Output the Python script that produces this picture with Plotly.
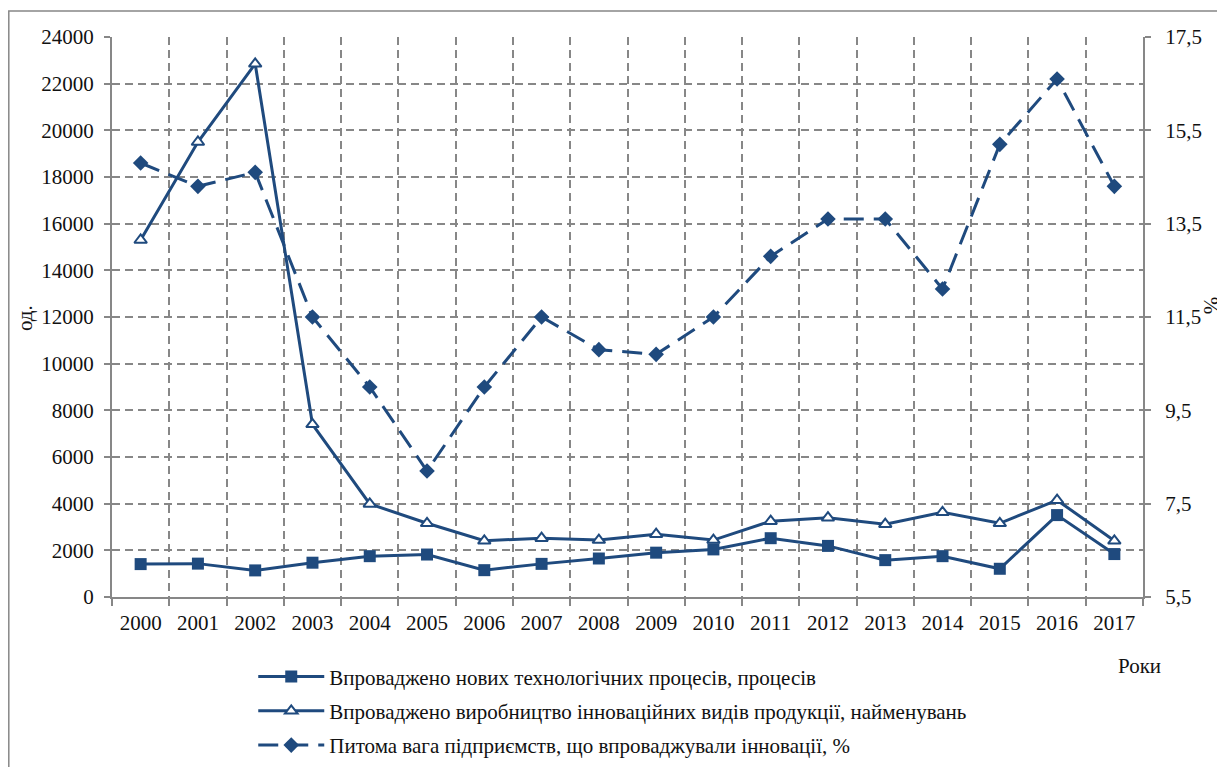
import plotly.graph_objects as go

years = list(range(2000, 2018))
year_labels = [str(y) for y in years]

processes = [1410, 1430, 1140, 1470, 1750, 1820, 1150, 1420, 1650, 1900, 2040, 2520, 2190, 1580, 1750, 1210, 3510, 1840]
products = [15300, 19500, 22850, 7400, 3990, 3160, 2410, 2520, 2440, 2690, 2440, 3250, 3400, 3120, 3630, 3160, 4150, 2410]
share = [14.8, 14.3, 14.6, 11.5, 10.0, 8.2, 10.0, 11.5, 10.8, 10.7, 11.5, 12.8, 13.6, 13.6, 12.1, 15.2, 16.6, 14.3]

names = [
    "Впроваджено нових технологічних процесів, процесів",
    "Впроваджено виробництво інноваційних видів продукції, найменувань",
    "Питома вага підприємств, що впроваджували інновації, %",
]

left_ticks = list(range(0, 24001, 2000))
right_ticks = [5.5, 7.5, 9.5, 11.5, 13.5, 15.5, 17.5]
right_labels = ["5,5", "7,5", "9,5", "11,5", "13,5", "15,5", "17,5"]

BLUE = "#1F4A7E"
GRAY = "#878787"
FONT = "Liberation Serif"
TF = 21

fig = go.Figure()
fig.add_trace(go.Scatter(
    x=years, y=processes, name=names[0], legendgroup="a",
    mode="lines+markers",
    line=dict(color=BLUE, width=3),
    marker=dict(symbol="square", size=12, color=BLUE),
))
fig.add_trace(go.Scatter(
    x=years, y=products, name=names[1], legendgroup="b",
    mode="lines+markers",
    line=dict(color=BLUE, width=3),
    marker=dict(symbol="triangle-up", size=11, color="white", line=dict(color=BLUE, width=2)),
))
fig.add_trace(go.Scatter(
    x=years, y=share, name=names[2], legendgroup="c", yaxis="y2",
    mode="lines+markers",
    line=dict(color=BLUE, width=3, dash="20px,10px"),
    marker=dict(symbol="diamond", size=12, color=BLUE),
))

fig.update_layout(
    width=1217, height=759,
    margin=dict(l=104, r=82, t=29, b=170, autoexpand=False),
    paper_bgcolor="white", plot_bgcolor="white",
    font=dict(family=FONT, size=TF, color="#111111"),
    showlegend=True,
    legend=dict(
        x=0.137, y=-0.106, xanchor="left", yanchor="top",
        orientation="v", font=dict(family=FONT, size=21, color="#111111"),
        tracegroupgap=4, itemwidth=66, bgcolor="rgba(0,0,0,0)",
    ),
    xaxis=dict(
        range=[1999.5, 2017.5], tickmode="array", tickvals=years, ticktext=year_labels,
        showgrid=False, ticks="", showline=True, linecolor=GRAY, linewidth=2,
        tickfont=dict(family=FONT, size=TF), zeroline=False, automargin=False,
        ticklabelstandoff=6,
        minor=dict(tickmode="linear", tick0=1999.5, dtick=1, showgrid=True,
                   gridcolor=GRAY, gridwidth=1.5, griddash="8px,5px",
                   ticks="outside", ticklen=7, tickcolor=GRAY, tickwidth=2),
    ),
    yaxis=dict(
        range=[0, 24000], tickmode="array", tickvals=left_ticks, tickformat="d",
        showgrid=True, gridcolor=GRAY, gridwidth=1.5, griddash="8px,5px",
        showline=True, linecolor=GRAY, linewidth=2, ticks="outside", ticklen=6,
        tickcolor=GRAY, tickwidth=2, zeroline=False, tickfont=dict(family=FONT, size=TF),
        automargin=False, ticklabelstandoff=6,
    ),
    yaxis2=dict(
        range=[5.5, 17.5], overlaying="y", side="right", tickmode="array",
        tickvals=right_ticks, ticktext=right_labels, showgrid=False,
        showline=True, linecolor=GRAY, linewidth=2, ticks="outside", ticklen=6,
        tickcolor=GRAY, tickwidth=2, zeroline=False, tickfont=dict(family=FONT, size=TF),
        automargin=False, ticklabelstandoff=10,
    ),
    annotations=[
        dict(text="од.", xref="paper", yref="paper", x=-0.098, y=0.498, textangle=-90,
             showarrow=False, font=dict(family=FONT, size=TF)),
        dict(text="%", xref="paper", yref="paper", x=1.066, y=0.52, textangle=90,
             xanchor="center", yanchor="middle",
             showarrow=False, font=dict(family=FONT, size=TF)),
        dict(text="Роки", xref="paper", yref="paper", x=1.019, y=-0.149,
             showarrow=False, font=dict(family=FONT, size=TF)),
    ],
    shapes=[
        dict(type="rect", xref="paper", yref="paper", x0=-0.1001, y0=-0.33, x1=1.1, y1=1.0464,
             line=dict(color=GRAY, width=1.5), fillcolor="rgba(0,0,0,0)", layer="below"),
    ],
)

fig.write_html("out.html")
